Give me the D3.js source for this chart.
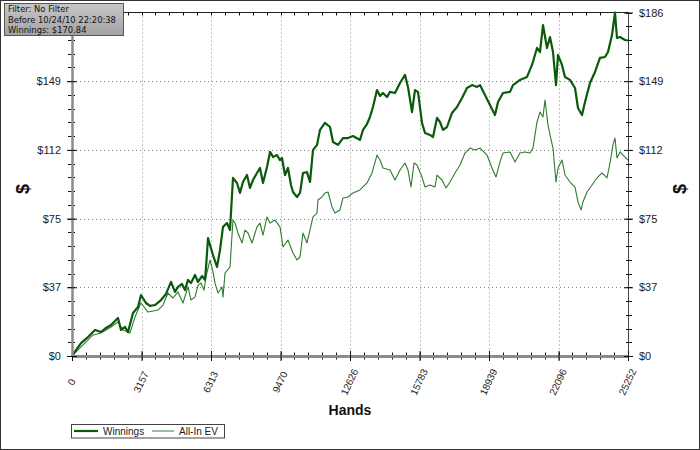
<!DOCTYPE html>
<html><head><meta charset="utf-8">
<script src="https://cdn.jsdelivr.net/npm/d3@7"></script>
<style>body{margin:0;background:#fff}svg{display:block}</style>
</head><body>
<script>
// ---- data ----
const winHands = [0,182,409,577,727,954,1045,1317,1544,1771,1998,2089,2225,2407,2543,2770,2998,3134,3361,3543,3770,4043,4269,4497,4678,4814,4996,5133,5268,5405,5586,5723,5904,6041,6086,6177,6268,6404,6586,6722,6858,7040,7176,7312,7494,7630,7766,7948,8084,8220,8402,8538,8675,8856,8993,9129,9310,9447,9538,9674,9810,9946,10037,10219,10355,10491,10673,10809,10945,11127,11263,11491,11718,11854,12081,12308,12535,12762,13080,13216,13398,13534,13670,13852,13988,14124,14306,14443,14670,14897,15124,15260,15442,15578,15714,15896,16032,16259,16396,16577,16713,16850,17031,17258,17486,17713,17940,18167,18394,18530,18757,18984,19211,19348,19575,19893,20029,20347,20665,20892,21119,21255,21391,21573,21709,21846,21982,22073,22254,22391,22618,22845,22981,23163,23299,23526,23753,23980,24207,24344,24525,24661,24752,24889,25116,25252];
const winValues = [0,3.2,7.0,8.7,10.3,13.0,14.1,13.0,15.2,16.8,19.5,20.6,14.1,15.7,13.0,23.3,26.5,33.0,28.7,27.1,27.6,30.3,33.6,40.1,34.7,37.4,39.0,35.7,41.2,39.5,43.9,40.1,43.3,41.2,47.7,63.9,60.1,54.7,48.2,57.4,69.9,72.0,68.2,96.4,93.7,88.3,94.2,98.0,91.0,95.3,99.1,101.8,93.7,102.3,110.5,107.8,108.8,106.1,107.2,98.0,101.8,92.6,88.8,86.1,88.3,99.1,99.6,94.2,111.5,114.3,122.4,126.2,124.0,115.9,114.3,118.0,118.0,119.1,117.0,122.4,125.6,129.4,134.8,144.0,140.8,142.4,140.2,143.0,142.4,147.8,152.2,145.7,132.1,144.0,143.0,126.2,120.8,119.7,118.6,128.9,126.7,122.4,124.0,131.6,134.8,139.7,145.1,146.7,145.7,146.7,141.3,135.9,130.5,137.5,142.4,143.0,146.7,149.5,151.1,157.6,166.8,164.6,179.2,166.8,172.7,164.6,146.7,163.0,157.6,151.1,149.5,145.1,134.3,130.5,137.5,147.8,153.8,161.4,161.9,164.6,173.8,186.0,172.2,172.7,171.1,170.84];
const evHands = [0,409,727,954,1317,1771,2089,2316,2634,2861,3134,3452,3906,4133,4360,4587,4814,5041,5268,5405,5586,5723,5859,5995,6086,6268,6404,6495,6631,6813,6858,6949,7176,7312,7403,7539,7721,7857,7993,8175,8402,8538,8675,8856,8993,9220,9447,9583,9810,10037,10219,10355,10491,10673,10809,10945,11127,11172,11354,11491,11627,11808,11945,12172,12308,12535,12762,13080,13398,13625,13852,13988,14124,14443,14670,14897,15124,15260,15396,15533,15669,15896,16032,16259,16486,16577,16804,16986,17168,17395,17622,17849,18076,18303,18530,18848,19075,19257,19438,19575,19893,20120,20347,20574,20801,20937,21119,21255,21391,21482,21618,21709,21846,21982,22073,22254,22391,22618,22845,22981,23118,23208,23390,23617,23844,24071,24298,24434,24570,24661,24752,24889,25025,25252];
const evValues = [0,4.9,8.7,11.4,12.5,15.7,18.4,14.1,12.5,21.1,28.7,23.8,24.9,27.6,34.1,31.4,34.7,28.7,37.4,30.3,31.9,38.4,39.5,35.7,42.8,52.0,45.5,39.5,34.1,37.4,31.9,44.9,48.2,73.6,72.0,66.6,61.2,68.2,66.6,61.2,69.9,72.0,65.5,75.3,72.0,73.6,69.9,59.0,62.8,55.8,52.0,53.6,66.6,61.2,68.2,75.3,77.4,84.5,86.1,88.3,88.8,80.7,77.4,79.1,85.6,86.1,88.3,89.9,93.7,99.1,108.8,106.1,101.8,100.7,95.3,100.7,104.5,100.7,91.5,104.5,103.4,96.9,91.5,92.6,91.5,98.0,95.3,91.0,94.2,99.1,103.4,109.9,112.6,111.5,112.6,108.8,101.8,96.9,105.1,109.9,110.5,105.1,109.9,110.5,109.9,112.6,126.7,132.1,129.4,138.6,125.1,119.7,112.6,94.2,101.8,106.1,98.0,94.2,91.5,83.4,79.1,83.4,88.8,92.6,96.4,99.1,96.4,104.5,114.3,118.0,107.2,110.5,108.8,106.1];
const xTicks = [0,3157,6313,9470,12626,15783,18939,22096,25252];
const yTicks = [0,37.2,74.4,111.6,148.8,186];
const yTickLabels = ["$0","$37","$75","$112","$149","$186"];
const seriesNames = ["Winnings","All-In EV"];
const infoLines = ["Filter: No Filter","Before 10/24/10 22:20:38","Winnings: $170.84"];
const xTitle = "Hands", yTitle = "$";

// ---- chart ----
const W = 700, H = 450;
const L = 72, R = 628, T = 12.5, B = 356;
const x = d3.scaleLinear().domain([0, 25252]).range([L, R]);
const y = d3.scaleLinear().domain([0, 186]).range([B, T]);
const colWin = "#0b5a0b", colEv = "#2f7a2f";
const font = "'Liberation Sans', Arial, sans-serif";

const svg = d3.select("body").append("svg").attr("width", W).attr("height", H);
svg.append("rect").attr("x",0.5).attr("y",0.5).attr("width",W-1).attr("height",H-1)
  .attr("fill","#fff").attr("stroke","#333");

// grid
const grid = svg.append("g").attr("stroke","#8a8a8a").attr("stroke-width",1).attr("stroke-dasharray","1,3");
grid.selectAll(".gx").data(xTicks.slice(1,-1)).join("line")
  .attr("x1",d=>Math.round(x(d))+0.5).attr("x2",d=>Math.round(x(d))+0.5).attr("y1",T).attr("y2",B);
grid.selectAll(".gy").data(yTicks.slice(1,-1)).join("line")
  .attr("y1",d=>Math.round(y(d))+0.5).attr("y2",d=>Math.round(y(d))+0.5).attr("x1",L).attr("x2",R);

// minor ticks
const xMinor = d3.range(0, 41).map(i => i * 25252 / 40);
const yMinor = d3.range(0, 26).map(i => i * 186 / 25);
const tk = svg.append("g").attr("stroke","#111").attr("stroke-width",1);
tk.append("line").attr("x1",L).attr("x2",R).attr("y1",T).attr("y2",T).attr("stroke","#222");
tk.selectAll(".tt").data(xMinor).join("line")
  .attr("x1",d=>Math.round(x(d))+0.5).attr("x2",d=>Math.round(x(d))+0.5).attr("y1",T).attr("y2",T+3);
tk.append("line").attr("x1",R+0.5).attr("x2",R+0.5).attr("y1",T).attr("y2",B+4).attr("stroke","#444");
tk.selectAll(".rt").data(yMinor).join("line")
  .attr("y1",d=>Math.round(y(d))+0.5).attr("y2",d=>Math.round(y(d))+0.5).attr("x1",R-2).attr("x2",R+4);
tk.selectAll(".bt").data(xMinor).join("line")
  .attr("x1",d=>Math.round(x(d))+0.5).attr("x2",d=>Math.round(x(d))+0.5).attr("y1",B-3.5).attr("y2",B+3.5);
tk.selectAll(".lt").data(yMinor).join("line")
  .attr("y1",d=>Math.round(y(d))+0.5).attr("y2",d=>Math.round(y(d))+0.5).attr("x1",L-4).attr("x2",L+3);

// series
const line = d3.line().x(d=>x(d[0])).y(d=>y(d[1]));
svg.append("path").datum(evHands.map((h,i)=>[h,evValues[i]])).attr("d",line)
  .attr("fill","none").attr("stroke",colEv).attr("stroke-width",1.1).attr("stroke-linejoin","round");
svg.append("path").datum(winHands.map((h,i)=>[h,winValues[i]])).attr("d",line)
  .attr("fill","none").attr("stroke",colWin).attr("stroke-width",2.2).attr("stroke-linejoin","round");

// bottom axis
const gx = svg.append("g").attr("transform",`translate(0,${B})`)
  .call(d3.axisBottom(x).tickValues(xTicks).tickFormat(d3.format("d")).tickSize(5).tickSizeOuter(0));
gx.select(".domain").attr("stroke","#8c8c8c").attr("stroke-width",3);
gx.selectAll(".tick line").attr("y1",-5).attr("y2",5).attr("stroke","#111");
gx.selectAll(".tick text").attr("y",0).attr("dy",null)
  .attr("transform","translate(-1,26) rotate(-65)").attr("text-anchor","middle")
  .attr("dominant-baseline","central").attr("font-family",font).attr("font-size",10).attr("fill","#222");

// left axis
const gy = svg.append("g").attr("transform",`translate(${L},0)`)
  .call(d3.axisLeft(y).tickValues(yTicks).tickFormat((d,i)=>yTickLabels[i]).tickSize(5).tickSizeOuter(0).tickPadding(6));
gy.select(".domain").attr("stroke","#8c8c8c").attr("stroke-width",2.5);
gy.selectAll(".tick line").attr("x1",5).attr("x2",-5).attr("stroke","#111");
gy.selectAll(".tick text").attr("font-family",font).attr("font-size",11).attr("fill","#222").attr("x",-11);
gy.selectAll(".tick").filter(d=>d===186).select("line").remove();

// right axis labels
const gr = svg.append("g").attr("transform",`translate(${R},0)`)
  .call(d3.axisRight(y).tickValues(yTicks).tickFormat((d,i)=>yTickLabels[i]).tickSize(5).tickSizeOuter(0));
gr.select(".domain").remove();
gr.selectAll(".tick line").attr("x1",-4).attr("x2",5).attr("stroke","#111");
gr.selectAll(".tick text").attr("font-family",font).attr("font-size",11).attr("fill","#222").attr("x",11);

// axis titles
svg.append("text").attr("x",350).attr("y",415).attr("text-anchor","middle")
  .attr("font-family",font).attr("font-weight","bold").attr("font-size",14).attr("fill","#111").text(xTitle);
svg.append("text").attr("transform","translate(23,189) rotate(-90)").attr("text-anchor","middle")
  .attr("dominant-baseline","central").attr("font-family",font).attr("font-weight","bold").attr("font-size",18).attr("fill","#111").text(yTitle);
svg.append("text").attr("transform","translate(680,189) rotate(-90)").attr("text-anchor","middle")
  .attr("dominant-baseline","central").attr("font-family",font).attr("font-weight","bold").attr("font-size",18).attr("fill","#111").text(yTitle);

// legend
const lg = svg.append("g");
lg.append("rect").attr("x",71.5).attr("y",424.5).attr("width",153).attr("height",13.5)
  .attr("fill","#fff").attr("stroke","#444");
const legItems = [{name:seriesNames[0],c:colWin,w:2.2,x0:74,x1:98,tx:103},{name:seriesNames[1],c:"#5d905d",w:1.2,x0:152,x1:174,tx:179}];
legItems.forEach(it=>{
  lg.append("line").attr("x1",it.x0).attr("x2",it.x1).attr("y1",431).attr("y2",431).attr("stroke",it.c).attr("stroke-width",it.w);
  lg.append("text").attr("x",it.tx).attr("y",435).attr("font-family",font).attr("font-size",10).attr("fill","#222").text(it.name);
});

// info box
const defs = svg.append("defs");
const gr2 = defs.append("linearGradient").attr("id","ib").attr("x1",0).attr("y1",0).attr("x2",0).attr("y2",1);
gr2.append("stop").attr("offset","0%").attr("stop-color","#c8c8c8");
gr2.append("stop").attr("offset","100%").attr("stop-color","#a2a2a2");
svg.append("rect").attr("x",4.5).attr("y",3.5).attr("width",119).attr("height",32)
  .attr("fill","url(#ib)").attr("stroke","#555");
svg.append("g").selectAll("text").data(infoLines).join("text")
  .attr("x",8).attr("y",(d,i)=>11.8+i*10.8).attr("font-family","'DejaVu Sans', Verdana, sans-serif")
  .attr("font-size",8.4).attr("fill","#111").text(d=>d);
</script>
</body></html>
